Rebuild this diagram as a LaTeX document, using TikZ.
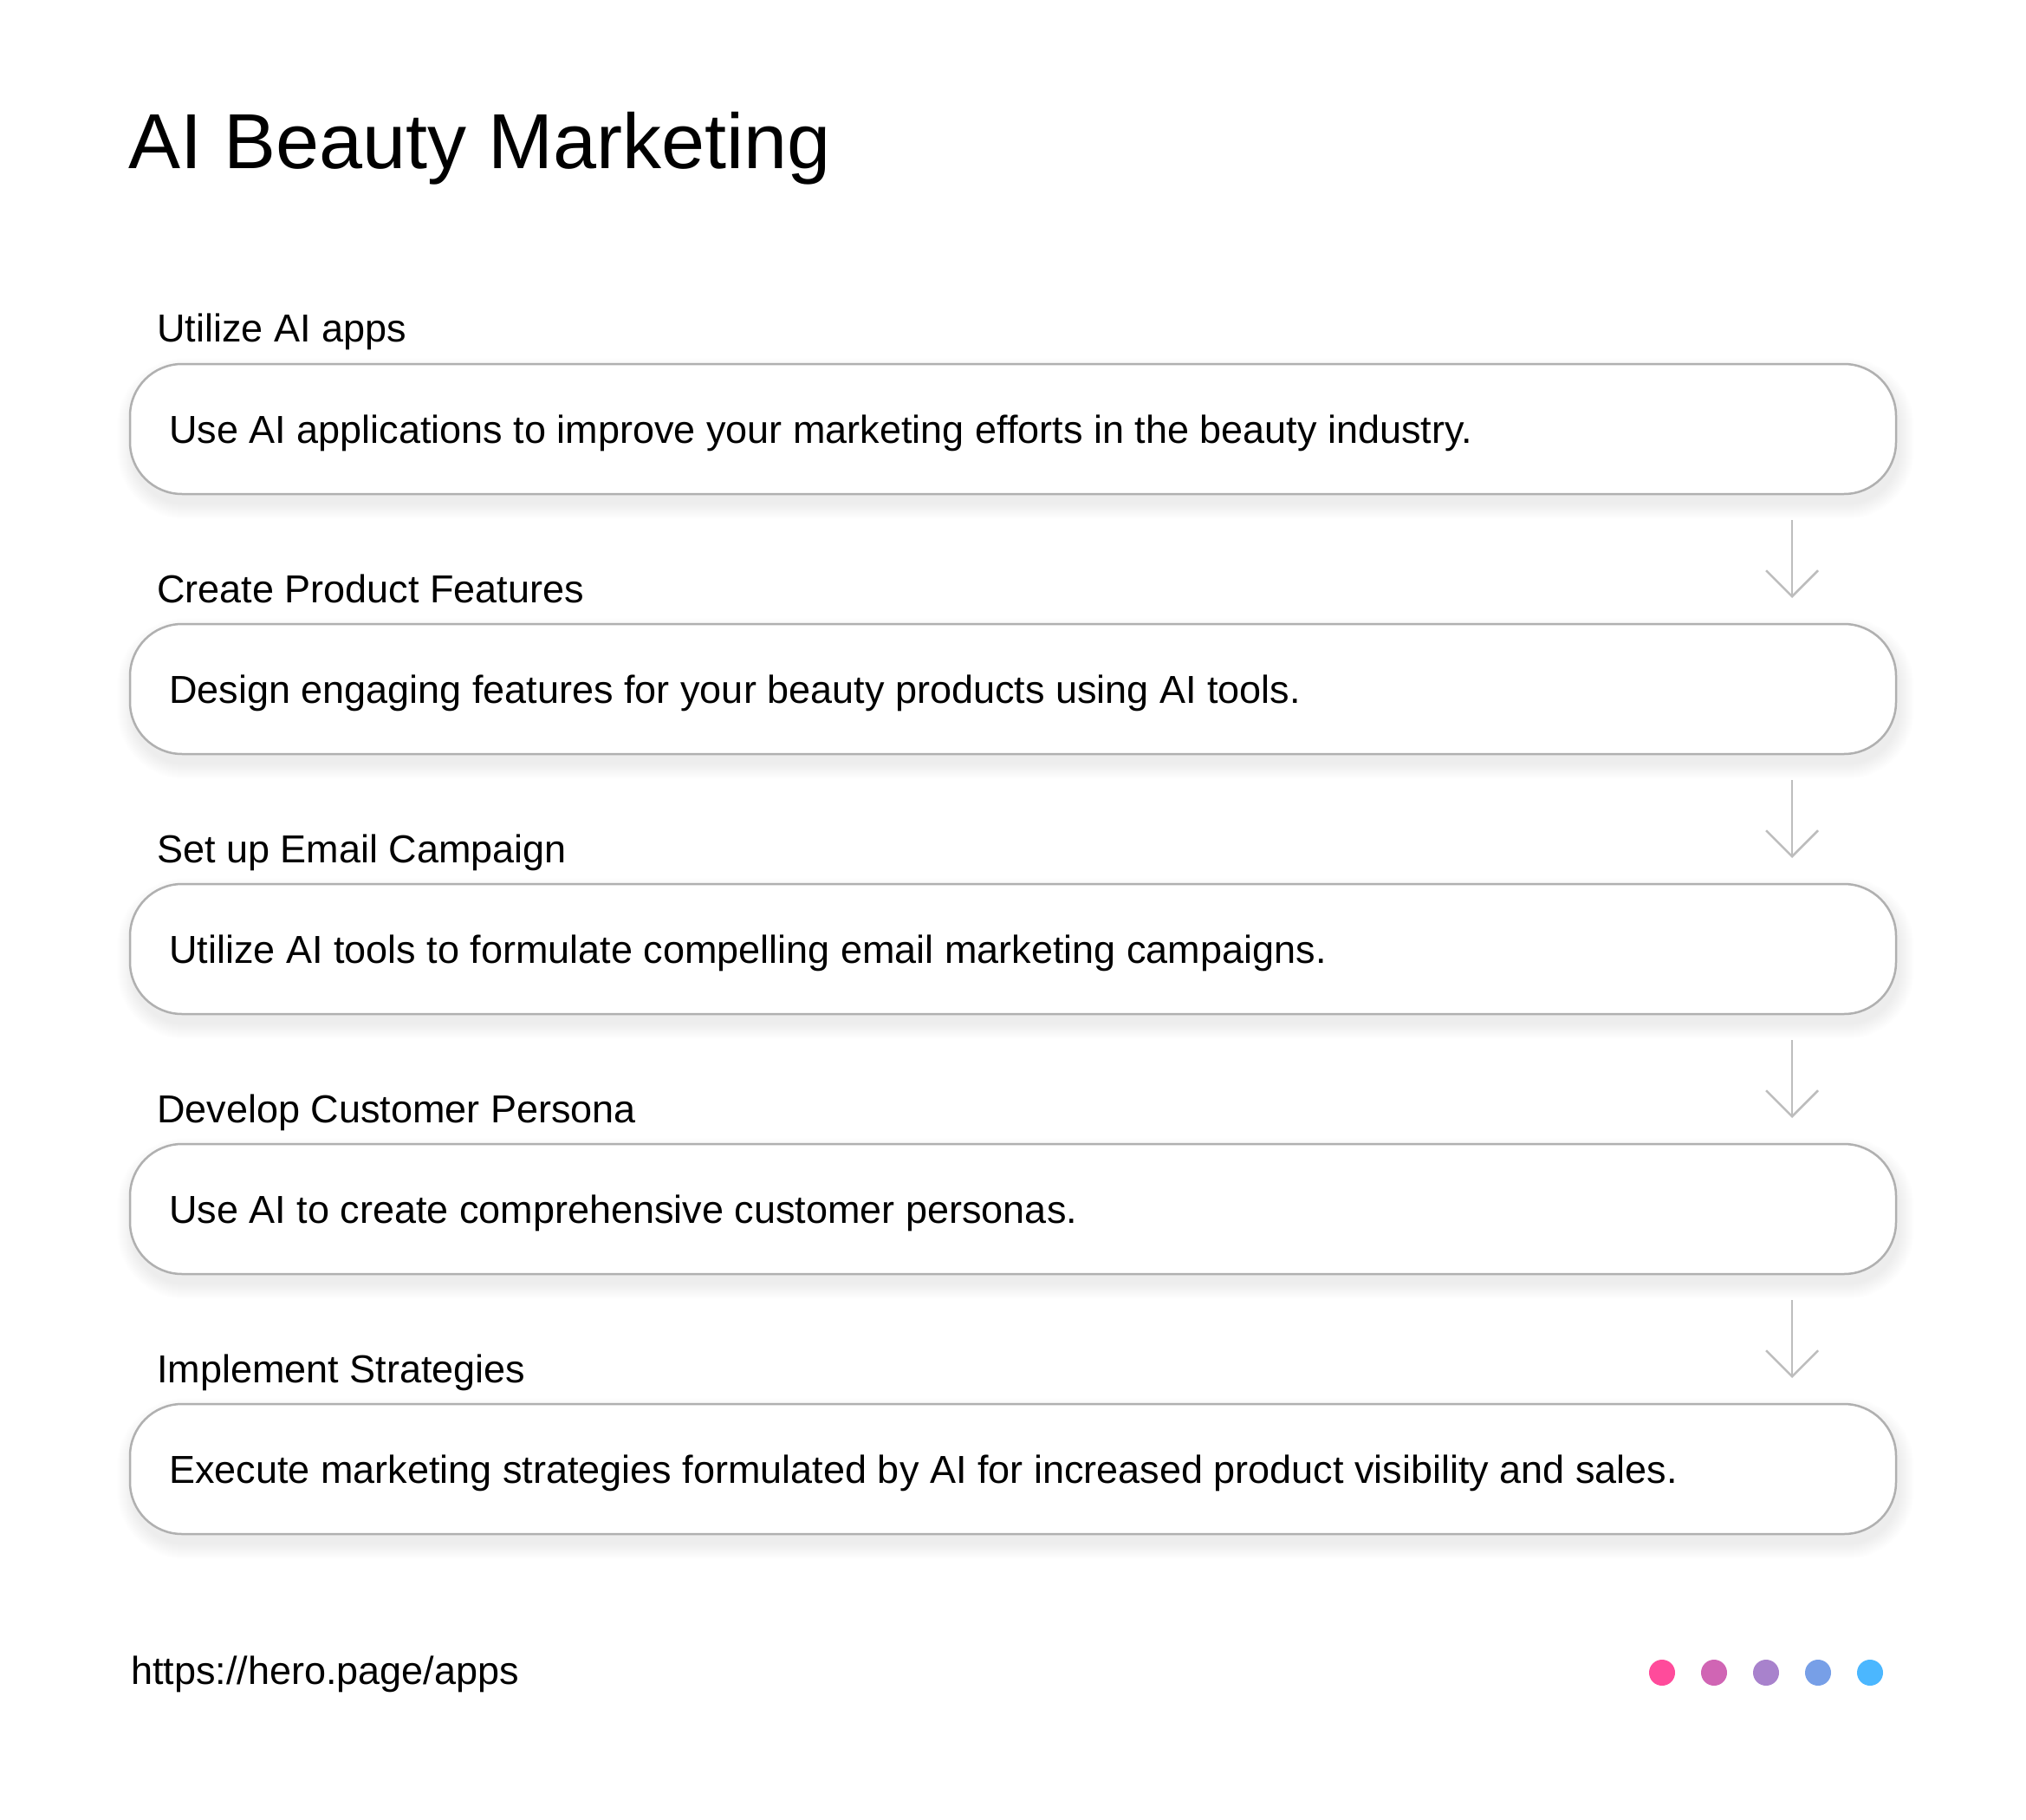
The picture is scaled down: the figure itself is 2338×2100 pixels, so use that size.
\documentclass[tikz,border=0pt]{standalone}
\usepackage{fontspec}
\setmainfont{Liberation Sans}
\usetikzlibrary{arrows.meta,calc}
\definecolor{boxline}{HTML}{B0B0B0}
\definecolor{arrline}{HTML}{BDBDBD}
\definecolor{dotA}{HTML}{FF4B9B}
\definecolor{dotB}{HTML}{D065B4}
\definecolor{dotC}{HTML}{A882CC}
\definecolor{dotD}{HTML}{779FE7}
\definecolor{dotE}{HTML}{4BB7FF}
\tikzset{
  stepbox/.style={draw=boxline, line width=2.5pt, fill=white, rounded corners=60pt,
    minimum width=2038pt, minimum height=150pt, inner sep=0pt, outer sep=0pt},
  shadowlayer/.style={fill=black, fill opacity=0.0045, draw=none},
  bodytext/.style={anchor=base west, inner sep=0pt, font=\fontsize{45}{54}\selectfont},
  labeltext/.style={anchor=base west, inner sep=0pt, font=\fontsize{45}{54}\selectfont},
  flowarrow/.style={draw=arrline, line width=2.5pt,
    -{Straight Barb[length=30pt, width=60pt, line width=2.5pt]}},
  dotnode/.style={circle, minimum size=30pt, inner sep=0pt, draw=none}
}
\begin{document}
\begin{tikzpicture}[x=1pt, y=-1pt]
\useasboundingbox (0,0) rectangle (2338,2100);
\fill[white] (0,0) rectangle (2338,2100);

\node[anchor=base west, inner sep=0pt, font=\fontsize{90}{108}\selectfont] (title) at (148,195) {AI Beauty Marketing};

% soft shadows under the boxes
\foreach \cy in {495,795,1095,1395,1695}{
  \foreach \r in {1,...,18}{
    \fill[shadowlayer, rounded corners=60+\r]
      (150-\r+3, \cy-75+11-\r) rectangle (2188+\r+3, \cy+75+11+\r);
  }
}

% boxes
\node[stepbox] (b1) at (1169,495) {};
\node[stepbox] (b2) at (1169,795) {};
\node[stepbox] (b3) at (1169,1095) {};
\node[stepbox] (b4) at (1169,1395) {};
\node[stepbox] (b5) at (1169,1695) {};

% labels
\node[labeltext] (l1) at (181,395) {Utilize AI apps};
\node[labeltext] (l2) at (181,695) {Create Product Features};
\node[labeltext] (l3) at (181,995) {Set up Email Campaign};
\node[labeltext] (l4) at (181,1295) {Develop Customer Persona};
\node[labeltext] (l5) at (181,1595) {Implement Strategies};

% body texts
\node[bodytext] (t1) at (195,511) {Use AI applications to improve your marketing efforts in the beauty industry.};
\node[bodytext] (t2) at (195,811) {Design engaging features for your beauty products using AI tools.};
\node[bodytext] (t3) at (195,1111) {Utilize AI tools to formulate compelling email marketing campaigns.};
\node[bodytext] (t4) at (195,1411) {Use AI to create comprehensive customer personas.};
\node[bodytext] (t5) at (195,1711) {Execute marketing strategies formulated by AI for increased product visibility and sales.};

% arrows
\draw[flowarrow] ($(b1.south east)+(-120,30)$) -- ($(b2.north east)+(-120,-30)$);
\draw[flowarrow] ($(b2.south east)+(-120,30)$) -- ($(b3.north east)+(-120,-30)$);
\draw[flowarrow] ($(b3.south east)+(-120,30)$) -- ($(b4.north east)+(-120,-30)$);
\draw[flowarrow] ($(b4.south east)+(-120,30)$) -- ($(b5.north east)+(-120,-30)$);

% footer
\node[anchor=base west, inner sep=0pt, font=\fontsize{45}{54}\selectfont] (url) at (151,1943) {https://hero.page/apps};

\node[dotnode, fill=dotA] (d1) at (1918,1930) {};
\node[dotnode, fill=dotB] (d2) at (1978,1930) {};
\node[dotnode, fill=dotC] (d3) at (2038,1930) {};
\node[dotnode, fill=dotD] (d4) at (2098,1930) {};
\node[dotnode, fill=dotE] (d5) at (2158,1930) {};
\end{tikzpicture}
\end{document}
